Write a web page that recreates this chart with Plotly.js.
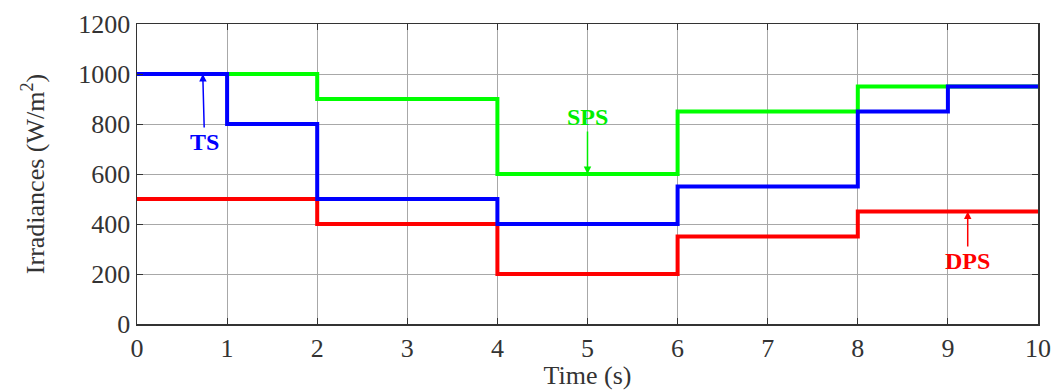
<!DOCTYPE html>
<html><head><meta charset="utf-8">
<script src="https://cdn.plot.ly/plotly-3.0.1.min.js"></script>
<style>html,body{margin:0;padding:0;background:#fff;}#chart{width:1053px;height:390px;}</style>
</head><body><div id="chart"></div>
<script>
const time = [0, 1, 2, 4, 6, 8, 9, 10];
const sps = [1000, 1000, 900, 600, 850, 950, 950, 950];
const ts  = [1000, 800, 500, 400, 550, 850, 950, 950];
const dps = [500, 500, 400, 200, 350, 450, 450, 450];
const xTicks = [0,1,2,3,4,5,6,7,8,9,10];
const yTicks = [0,200,400,600,800,1000,1200];

const mk = (y, c, n) => ({x: time, y: y, type: 'scatter', mode: 'lines', name: n,
  line: {shape: 'hv', color: c, width: 4}, hoverinfo: 'skip'});
const data = [mk(dps, '#ff0000', 'DPS'), mk(sps, '#00ff00', 'SPS'), mk(ts, '#0000ff', 'TS')];

const fam = '"Liberation Serif", "Times New Roman", serif';
const font = {family: fam, size: 26, color: '#333'};
const ann = (txt, x, y, ax, ay, c) => ({x: x, y: y, ax: ax, ay: ay, axref: 'x', ayref: 'y',
  text: '<b>' + txt + '</b>', showarrow: true, arrowhead: 2, arrowsize: 1, arrowwidth: 1.5,
  arrowcolor: c, standoff: 0, font: {family: fam, size: 24, color: c}});

const layout = {
  width: 1053, height: 390,
  margin: {l: 137, r: 15, t: 24, b: 66},
  showlegend: false,
  paper_bgcolor: '#fff', plot_bgcolor: '#fff',
  font: font,
  xaxis: {range: [0, 10], tickvals: xTicks, ticks: 'inside', ticklen: 6, tickcolor: '#333',
    showline: true, linecolor: '#333', linewidth: 1.5, mirror: 'ticks',
    showgrid: true, gridcolor: '#a8a8a8', gridwidth: 1, zeroline: false,
    tickfont: font, title: {text: 'Time (s)', font: font, standoff: 0}},
  yaxis: {range: [0, 1200], tickvals: yTicks, ticks: 'inside', ticklen: 6, tickcolor: '#333',
    showline: true, linecolor: '#333', linewidth: 1.5, mirror: 'ticks',
    showgrid: true, gridcolor: '#a8a8a8', gridwidth: 1, zeroline: false,
    tickfont: font, title: {text: 'Irradiances (W/m<sup>2</sup>)', font: font, standoff: 26}},
  annotations: [
    ann('TS', 0.73, 1000, 0.75, 728, '#0000ff'),
    ann('SPS', 5, 600, 5, 828, '#00ee00'),
    ann('DPS', 9.22, 450, 9.22, 252, '#ff0000')
  ]
};
Plotly.newPlot('chart', data, layout, {displayModeBar: false, staticPlot: true});
</script></body></html>
